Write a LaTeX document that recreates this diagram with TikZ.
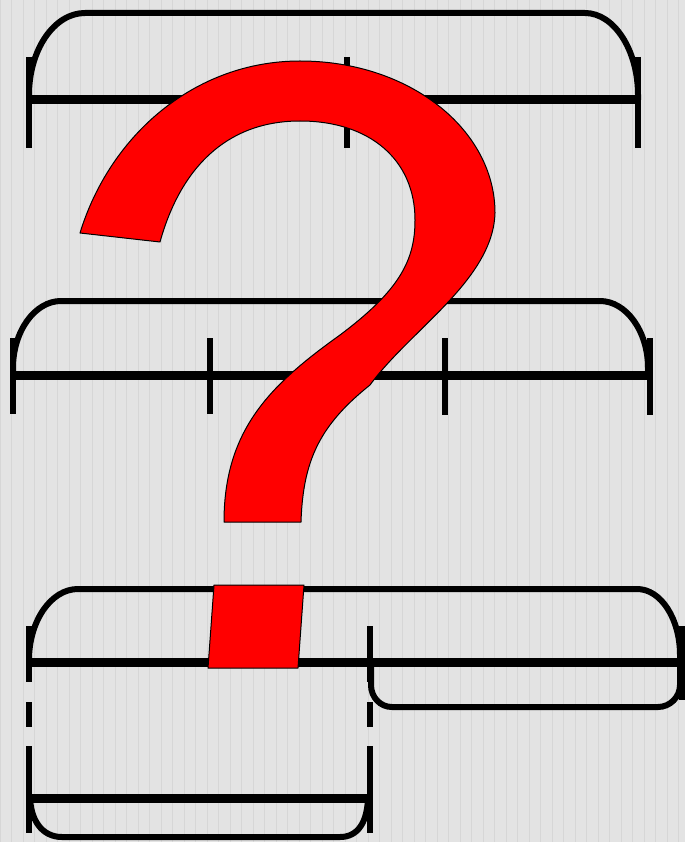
\documentclass[tikz,border=0pt]{standalone}
\usepackage{xcolor}
\definecolor{bgc}{HTML}{E3E3E3}
\definecolor{gridc}{HTML}{D6D6D6}
\definecolor{qred}{HTML}{FF0000}
\tikzset{
  barline/.style={line width=9pt, line cap=butt},
  braceline/.style={line width=6pt, line cap=butt},
  tickline/.style={line width=6pt, line cap=butt},
  gridline/.style={draw=gridc, line width=0.8pt},
  qshape/.style={fill=qred, draw=black, line width=1pt, line join=round}
}
\begin{document}
\begin{tikzpicture}[x=1pt,y=-1pt]
\useasboundingbox (0,0) rectangle (685,842);
\fill[bgc] (0,0) rectangle (685,842);
\draw[gridline] (0,0) grid[step=11.5] (685,842);

% ---------- top group ----------
\draw[braceline] (29,100) -- (29,95) .. controls (29,50) and (54,13) .. (85,13)
  -- (585,13) .. controls (614,13) and (638,50) .. (638,95) -- (638,100);
\draw[barline] (29,100) -- (638,100);
\draw[tickline] (29,57) -- (29,148);
\draw[tickline] (347,57) -- (347,148);
\draw[tickline] (638,57) -- (638,148);

% ---------- middle group ----------
\draw[braceline] (13,375) -- (13,368) .. controls (13,331) and (35,301) .. (61,301)
  -- (600,301) .. controls (626,301) and (648,331) .. (648,368) -- (648,375);
\draw[barline] (13,375) -- (651,375);
\draw[tickline] (13,338) -- (13,414);
\draw[tickline] (210,338) -- (210,414);
\draw[tickline] (445,338) -- (445,415);
\draw[tickline] (650,338) -- (650,415);

% ---------- bottom group ----------
\draw[braceline] (29,662) -- (29,660) .. controls (29,621) and (51,589) .. (78,589)
  -- (637,589) .. controls (661,589) and (680,619) .. (680,655) -- (680,662);
\draw[braceline] (371,662) -- (371,685) .. controls (371,697) and (380,707) .. (392,707)
  -- (658,707) .. controls (670,707) and (680,697) .. (680,685) -- (680,662);
\draw[barline] (29,662) -- (682,662);
\draw[tickline] (682,626) -- (682,700);

% lower-left box
\draw[tickline] (29,626) -- (29,682);
\draw[tickline] (29,702) -- (29,727);
\draw[tickline] (29,746) -- (29,833);
\draw[tickline] (370,626) -- (370,682);
\draw[tickline] (370,702) -- (370,727);
\draw[tickline] (370,746) -- (370,833);
\draw[braceline] (30,795) .. controls (30,820) and (42,837) .. (62,837)
  -- (340,837) .. controls (358,837) and (368,822) .. (368,795);
\draw[barline] (29,798) -- (370,798);

% ---------- question mark ----------
\draw[qshape] (80,233) .. controls (110,135) and (195,61) .. (300,61)
  .. controls (410,61) and (495,130) .. (495,213)
  .. controls (493,280) and (410,330) .. (370,385)
  .. controls (320,425) and (303,460) .. (301,522)
  -- (224,522)
  .. controls (224,430) and (270,385) .. (340,335)
  .. controls (400,290) and (415,260) .. (415,220)
  .. controls (415,160) and (370,121) .. (300,121)
  .. controls (225,121) and (180,170) .. (160,242)
  -- cycle;
\draw[qshape] (214,585) -- (304,585) -- (298,668) -- (208,668) -- cycle;
\end{tikzpicture}
\end{document}
